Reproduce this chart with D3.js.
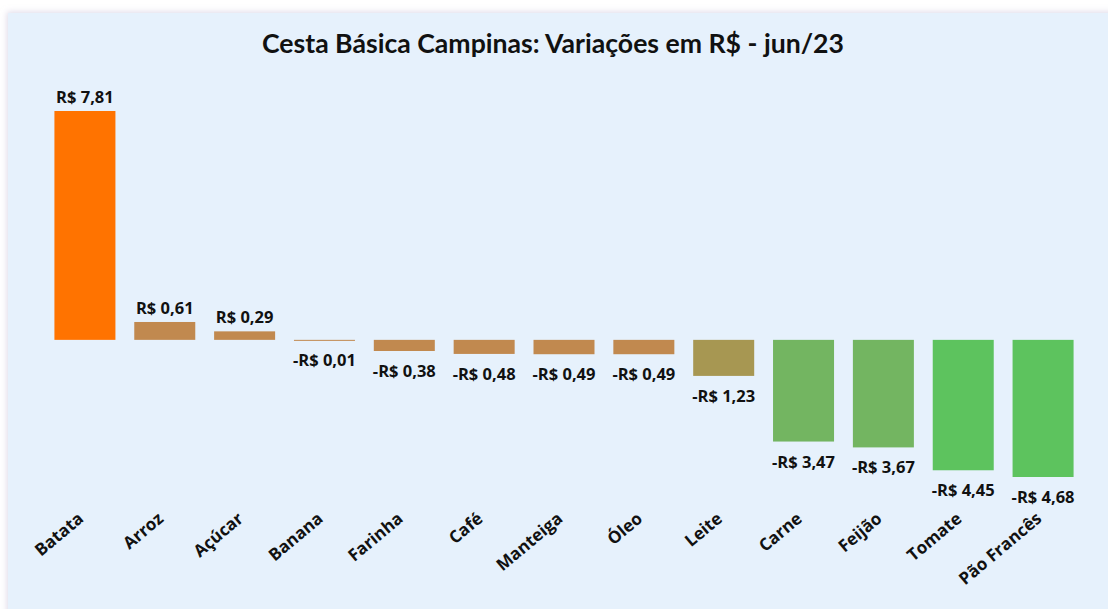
<!DOCTYPE html>
<html>
<head>
<meta charset="utf-8">
<script src="https://cdn.jsdelivr.net/npm/d3@7"></script>
<style>
  body { margin: 0; background: #fff; }
  .chart-title { font-family: Lato, 'Open Sans', sans-serif; font-weight: 700; font-size: 27px; fill: #111; }
  .value-label { font-family: 'Open Sans', sans-serif; font-weight: 700; font-size: 16.5px; fill: #111; }
  .cat-label { font-family: 'Open Sans', sans-serif; font-weight: 700; font-size: 17px; fill: #111; }
</style>
</head>
<body>
<svg width="1108" height="609"></svg>
<script>
const categories = ['Batata', 'Arroz', 'Açúcar', 'Banana', 'Farinha', 'Café', 'Manteiga',
    'Óleo', 'Leite', 'Carne', 'Feijão', 'Tomate', 'Pão Francês'];
const variations = [7.81, 0.61, 0.29, -0.01, -0.38, -0.48, -0.49, -0.49, -1.23, -3.47, -3.67, -4.45, -4.68];
const barColors = ['#ff7300', '#c1894f', '#c1894f', '#c1894f', '#c1894f', '#c1894f', '#c1894f',
    '#c1894f', '#a79752', '#73b561', '#73b561', '#5dc35e', '#5dc35e'];
const chartTitle = 'Cesta Básica Campinas: Variações em R$ - jun/23';

const data = categories.map((c, i) => ({ name: c, value: variations[i], color: barColors[i] }));

const svg = d3.select('svg');
const width = +svg.attr('width');
const height = +svg.attr('height');

// background panel with a soft shadow
const defs = svg.append('defs');
const f = defs.append('filter').attr('id', 'shadow')
    .attr('x', '-5%').attr('y', '-5%').attr('width', '110%').attr('height', '110%');
f.append('feDropShadow').attr('dx', -1).attr('dy', -1).attr('stdDeviation', 3)
    .attr('flood-color', '#c8c0d8').attr('flood-opacity', 0.6);

svg.append('rect')
    .attr('x', 8).attr('y', 13)
    .attr('width', width).attr('height', height)
    .attr('fill', '#e6f1fc')
    .attr('filter', 'url(#shadow)');

svg.append('text')
    .classed('chart-title', true)
    .attr('x', 553).attr('y', 53)
    .attr('text-anchor', 'middle')
    .attr('textLength', 582)
    .attr('lengthAdjust', 'spacingAndGlyphs')
    .text(chartTitle);

const xScale = d3.scaleBand()
    .domain(categories)
    .range([45, 1083])
    .paddingInner(0.236)
    .paddingOuter(0.118);

const yScale = d3.scaleLinear()
    .domain([d3.min(variations), d3.max(variations)])
    .range([477, 111]);

const fmt = v => (v < 0 ? '-' : '') + 'R$ ' + d3.format('.2f')(Math.abs(v)).replace('.', ',');

const g = svg.append('g');

g.selectAll('rect.bar')
    .data(data)
    .enter()
        .append('rect')
        .attr('class', 'bar')
        .attr('x', d => xScale(d.name))
        .attr('width', xScale.bandwidth())
        .attr('y', d => yScale(Math.max(0, d.value)))
        .attr('height', d => Math.max(1, Math.abs(yScale(d.value) - yScale(0))))
        .attr('fill', d => d.color);

g.selectAll('text.value-label')
    .data(data)
    .enter()
        .append('text')
        .attr('class', 'value-label')
        .attr('x', d => xScale(d.name) + xScale.bandwidth() / 2)
        .attr('y', d => d.value >= 0 ? yScale(d.value) - 8 : yScale(d.value) + 26)
        .attr('text-anchor', 'middle')
        .text(d => fmt(d.value));

// rotated category labels below the chart
const xAxis = d3.axisBottom(xScale).tickSize(0).tickPadding(0);
const xAxisG = g.append('g')
    .attr('transform', 'translate(0, 510)')
    .call(xAxis);
xAxisG.select('.domain').remove();
xAxisG.selectAll('.tick text')
    .attr('class', 'cat-label')
    .attr('font-size', null)
    .attr('font-family', null)
    .attr('fill', null)
    .attr('text-anchor', 'end')
    .attr('dy', '0.8em')
    .attr('transform', 'translate(-9, 0) rotate(-40)');
</script>
</body>
</html>
